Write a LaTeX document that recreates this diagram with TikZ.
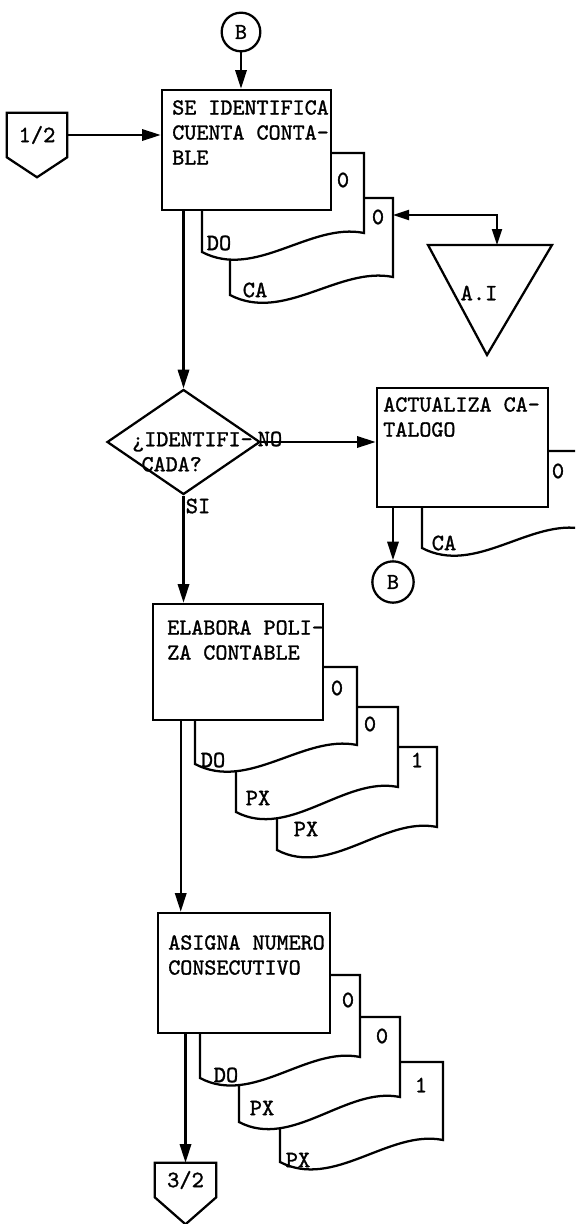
\documentclass[tikz,border=0pt]{standalone}
\usepackage{fontspec}
\newfontfamily\twf[FakeBold=1.3]{lmmono10-regular.otf}
\usetikzlibrary{arrows.meta,shapes.geometric,calc}
\newcommand{\docsh}[5]{%
  \pgfmathsetmacro\dshw{#3-#1}%
  \pgfmathsetmacro\dsxa{#1+0.67*\dshw}\pgfmathsetmacro\dsya{#5-11}%
  \pgfmathsetmacro\dsxb{#1+0.33*\dshw}\pgfmathsetmacro\dsyb{#4+28}%
  \draw[docst] (#1,#2) -- (#3,#2) -- (#3,#5) .. controls (\dsxa,\dsya) and (\dsxb,\dsyb) .. (#1,#4) -- cycle;}
\tikzset{
 lw/.style={line width=1.7pt},
 boxst/.style={draw, line width=1.9pt, fill=white, rectangle, inner sep=0pt},
 docst/.style={draw, line width=1.7pt, fill=white, line join=miter},
 txt/.style={font=\twf\fontsize{17.2}{18.75}\selectfont, align=left, inner sep=0pt, anchor=north west},
 lab/.style={font=\twf\fontsize{17.5}{19}\selectfont, inner sep=0pt},
 conn/.style={line width=1.7pt, -{Triangle[length=14pt,width=8.5pt]}},
 conn2/.style={line width=1.5pt, {Triangle[length=12pt,width=7.5pt]}-{Triangle[length=12pt,width=7.5pt]}},
 circ/.style={draw, circle, line width=1.7pt, inner sep=0pt, minimum size=29pt, font=\twf\fontsize{17}{18}\selectfont},
}
\begin{document}
\begin{tikzpicture}[x=0.75pt, y=-0.75pt]
\useasboundingbox (0,0) rectangle (575,1224);
\fill[white] (0,0) rectangle (575,1224);

% ---- top connector B and box 1
\node[circ] (b1) at (241,32) {B};
\docsh{230}{198}{393}{295}{277}
\docsh{202}{153}{364}{252}{233}
\node[boxst, minimum width=126.75pt, minimum height=90pt] (box1) at (246.5,150) {};
\node[txt] (t1) at (172,100) {SE IDENTIFICA\\CUENTA CONTA-\\BLE};
\node[lab] (l1a) at (343,180) {0};
\node[lab] (l1b) at (219,243) {DO};
\node[lab] (l1c) at (378,217) {0};
\node[lab] (l1d) at (255,290) {CA};
\coordinate (d1bR) at (393,215);

% ---- off-page connector 1/2
\node[lab, minimum width=45pt, minimum height=33pt] (p12) at (37,135) {1/2};
\draw[lw, line join=miter] (p12.north west) -- (p12.north east) -- (p12.south east) -- ($(p12.south)+(0,20)$) -- (p12.south west) -- cycle;

% ---- file A.I
\draw[lw, line join=miter] (428,245) -- (552,245) -- (487,355) -- cycle;
\coordinate (ait) at (497,245);
\node[lab] (ai) at (479,293) {A.I};

% ---- decision
\node[draw, diamond, line width=1.7pt, minimum width=114.75pt, minimum height=78.75pt, inner sep=0pt] (dia) at (183.5,442) {};
\node[txt] (td) at (132,432) {¿IDENTIFI-\\\hspace*{7pt}CADA?};
\node[lab] (no) at (270,439) {NO};
\node[lab] (si) at (198,506) {SI};

% ---- ACTUALIZA CATALOGO
\begin{scope}
\clip (0,0) rectangle (575,1224);
\docsh{422}{451}{584}{548}{529}
\end{scope}
\node[boxst, minimum width=128.25pt, minimum height=89.25pt] (act) at (462.5,447.5) {};
\node[txt] (ta) at (383,397) {ACTUALIZA CA-\\TALOGO};
\node[lab] (l2a) at (558,471) {0};
\node[lab] (l2b) at (444,543) {CA};
\node[circ, minimum size=31pt] (b2) at (393,582) {B};

% ---- ELABORA POLIZA CONTABLE
\docsh{277}{747}{437}{850}{827}
\docsh{236}{707}{398}{812}{787}
\docsh{195}{667}{357}{764}{745}
\node[boxst, minimum width=127.5pt, minimum height=87pt] (elab) at (238,662) {};
\node[txt] (te) at (167,620) {ELABORA POLI-\\ZA CONTABLE};
\node[lab] (l3a) at (337,688) {0};
\node[lab] (l3b) at (213,760) {DO};
\node[lab] (l3c) at (370,724) {0};
\node[lab] (l3d) at (258,798) {PX};
\node[lab] (l3e) at (417,760) {1};
\node[lab] (l3f) at (306,829) {PX};

% ---- ASIGNA NUMERO CONSECUTIVO
\docsh{280}{1062}{443}{1162}{1140}
\docsh{239}{1017}{400}{1122}{1097}
\docsh{200}{975}{360}{1078}{1057}
\node[boxst, minimum width=129pt, minimum height=90pt] (asig) at (244,973) {};
\node[txt] (tg) at (168,935) {ASIGNA NUMERO\\CONSECUTIVO};
\node[lab] (l4a) at (348,1000) {0};
\node[lab] (l4b) at (226,1075) {DO};
\node[lab] (l4c) at (382,1036) {0};
\node[lab] (l4d) at (262,1108) {PX};
\node[lab] (l4e) at (421,1085) {1};
\node[lab] (l4f) at (298,1160) {PX};

% ---- off-page connector 3/2
\node[lab, minimum width=45.75pt, minimum height=25.5pt] (p32) at (185.5,1180) {3/2};
\draw[lw, line join=miter] (p32.north west) -- (p32.north east) -- (p32.south east) -- ($(p32.south)+(0,27)$) -- (p32.south west) -- cycle;

% ---- connectors
\coordinate (ea) at ($(elab.south west)+(29,0)$);
\draw[conn] (b1.south) -- (b1.south |- box1.north);
\draw[conn] (p12.east) -- (p12.east -| box1.west);
\draw[conn] (box1.south -| dia.north) -- (dia.north);
\draw[conn2] (d1bR) -| (ait);
\draw[conn] (dia.east) -- (dia.east -| act.west);
\draw[conn] (dia.south) -- (dia.south |- elab.north);
\draw[conn] (b2.north |- act.south) -- (b2.north);
\draw[conn] (ea) -- (ea |- asig.north);
\draw[conn] (p32.north |- asig.south) -- (p32.north);
\end{tikzpicture}
\end{document}
